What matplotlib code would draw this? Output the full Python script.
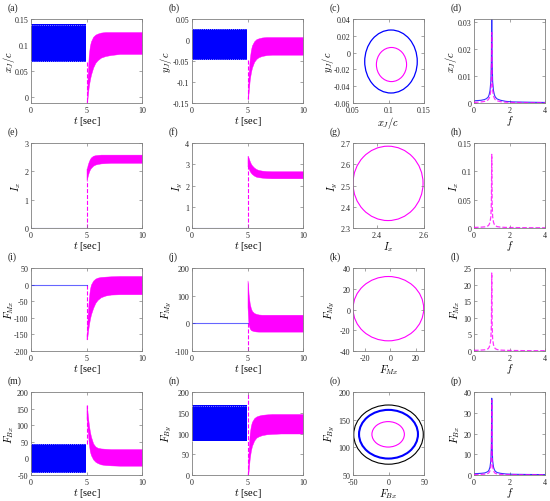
import matplotlib
matplotlib.use("Agg")
import matplotlib.pyplot as plt
from matplotlib.patches import Ellipse

plt.rcParams['font.family'] = ['Liberation Serif', 'DejaVu Serif']
plt.rcParams['mathtext.fontset'] = 'cm'
plt.rcParams['axes.unicode_minus'] = False

BLUE = '#0000FF'
MAG = '#FF00FF'

# ---------------- time series data ----------------
T_PRE = [0.0, 4.97]
T_POST = [5.0, 5.05, 5.1, 5.2, 5.3, 5.4, 5.6, 5.8, 6.0, 6.3, 6.7, 7.2, 8.0, 10.0]

# (a) x_J/c
a_pre_lo, a_pre_hi = 0.068, 0.140
a_post_hi = [-0.01, 0.0, 0.04, 0.08, 0.098, 0.107, 0.116, 0.12, 0.122, 0.124, 0.125, 0.125, 0.125, 0.125]
a_post_lo = [-0.01, -0.01, 0.0, 0.02, 0.033, 0.043, 0.057, 0.066, 0.071, 0.076, 0.079, 0.081, 0.083, 0.083]
a_jump = [0.068, -0.01]

# (b) y_J/c
b_pre_lo, b_pre_hi = -0.047, 0.027
b_post_hi = [-0.14, -0.12, -0.08, -0.045, -0.025, -0.013, -0.003, 0.002, 0.004, 0.006, 0.007, 0.007, 0.007, 0.007]
b_post_lo = [-0.14, -0.14, -0.125, -0.095, -0.078, -0.066, -0.052, -0.045, -0.041, -0.038, -0.036, -0.035, -0.035, -0.035]
b_jump = [-0.047, -0.14]

# (e) I_x
e_pre = 0.0
e_post_hi = [2.1, 2.12, 2.22, 2.34, 2.43, 2.49, 2.55, 2.57, 2.58, 2.59, 2.59, 2.59, 2.59, 2.59]
e_post_lo = [1.7, 1.72, 1.82, 1.96, 2.06, 2.12, 2.2, 2.24, 2.26, 2.28, 2.29, 2.3, 2.3, 2.3]
e_jump = [0.0, 1.7]

# (f) I_y
f_pre = 0.0
f_post_hi = [3.4, 3.38, 3.3, 3.15, 3.03, 2.95, 2.84, 2.77, 2.73, 2.7, 2.68, 2.67, 2.67, 2.67]
f_post_lo = [2.9, 2.88, 2.8, 2.68, 2.6, 2.54, 2.46, 2.41, 2.39, 2.37, 2.35, 2.34, 2.34, 2.34]
f_jump = [0.0, 3.3]

# (i) F_Mx
i_pre = 0.0
i_post_hi = [-150, -140, -96, -45, -15, 0, 12, 18, 21, 23, 24, 25, 26, 26]
i_post_lo = [-165, -165, -150, -125, -105, -90, -70, -55, -46, -38, -33, -30, -29, -29]
i_jump = [0.0, -165]

# (j) F_My
j_pre = 0.0
j_post_hi = [155, 140, 105, 72, 55, 45, 37, 34, 32, 31, 31, 31, 31, 31]
j_post_lo = [60, 20, -5, -18, -24, -26, -28.5, -29.5, -30, -30, -30, -30, -30, -30]
j_jump = [0.0, -100]

# (m) F_Bx
m_pre_lo, m_pre_hi = -43, 43
m_post_hi = [160, 155, 135, 105, 82, 66, 45, 36, 32, 30, 29, 28, 28, 28]
m_post_lo = [120, 110, 85, 48, 22, 10, -3, -10, -14, -18, -20, -21, -22, -22]
m_jump = [43, 160]

# (n) F_By
n_pre_lo, n_pre_hi = 82, 168
n_post_hi = [0, 20, 60, 100, 118, 128, 137, 141, 143, 145, 146, 147, 147, 147]
n_post_lo = [0, 0, 10, 40, 58, 70, 83, 90, 93, 96, 98, 99, 100, 100]
n_jump = [0, 200]

# ---------------- phase portraits (center x, center y, width, height) ----------------
c_blue = (0.1035, -0.0106, 0.074, 0.075)
c_mag = (0.1042, -0.0142, 0.0425, 0.0406)
g_mag = (2.448, 2.51, 0.296, 0.35)
k_mag = (-1.5, 0.8, 55.5, 62.0)
o_black = (0.0, 123.0, 98.0, 107.0)
o_blue = (0.0, 123.7, 83.0, 88.0)
o_mag = (-0.5, 123.5, 45.7, 46.0)

# ---------------- spectra ----------------
FREQ = [0, 0.2, 0.4, 0.6, 0.7, 0.8, 0.85, 0.9, 0.95, 0.98, 1.0, 1.02, 1.05, 1.1, 1.15, 1.2, 1.3, 1.5, 1.8, 2.2, 3.0, 4.0]
d_blue = [0.0008, 0.0009, 0.001, 0.0013, 0.0016, 0.0022, 0.003, 0.0045, 0.008, 0.016, 0.04, 0.016, 0.008, 0.0045, 0.003, 0.0022, 0.0015, 0.001, 0.0006, 0.0004, 0.0003, 0.0002]
d_mag = [0.0002, 0.0003, 0.0004, 0.0006, 0.0008, 0.0012, 0.0017, 0.0026, 0.0047, 0.009, 0.026, 0.009, 0.0047, 0.0026, 0.0017, 0.0012, 0.0008, 0.0005, 0.0003, 0.0002, 0.0001, 0.0001]
h_blue = [0.0] * 22
h_mag = [0.001, 0.0012, 0.0015, 0.002, 0.0025, 0.004, 0.006, 0.01, 0.02, 0.045, 0.13, 0.045, 0.02, 0.01, 0.006, 0.004, 0.0025, 0.0015, 0.001, 0.0008, 0.0005, 0.0004]
l_blue = [0.0] * 22
l_mag = [0.2, 0.22, 0.27, 0.36, 0.45, 0.7, 1.1, 1.8, 3.6, 8, 23.5, 8, 3.6, 1.8, 1.1, 0.7, 0.45, 0.27, 0.2, 0.15, 0.1, 0.08]
p_blue = [0.6, 0.7, 0.8, 1.0, 1.3, 1.8, 2.5, 3.8, 7, 14, 37, 14, 7, 3.8, 2.5, 1.8, 1.2, 0.8, 0.5, 0.35, 0.25, 0.2]
p_mag = [0.2, 0.25, 0.3, 0.4, 0.55, 0.8, 1.2, 2, 4, 9, 36, 9, 4, 2, 1.2, 0.8, 0.5, 0.3, 0.2, 0.15, 0.1, 0.1]

# ---------------- layout ----------------
W, H = 550, 502
COLS = [(31, 142), (192, 303), (353, 424), (474, 545)]
ROWS = [(20, 104), (144, 229), (269, 352), (393, 476)]
# y-label centre x position (figure px) per row/col
YLAB_X = [[9, 166, 328, 451],
          [16, 178, 333, 454],
          [9, 167, 330, 455],
          [9, 167, 330, 455]]

fig = plt.figure(figsize=(W / 100, H / 100), dpi=100)
CUR = {}


def make_ax(r, c, letter):
    x0, x1 = COLS[c]
    y0, y1 = ROWS[r]
    ax = fig.add_axes([x0 / W, 1 - y1 / H, (x1 - x0) / W, (y1 - y0) / H])
    for s in ax.spines.values():
        s.set_color('#808080')
        s.set_linewidth(0.6)
    ax.tick_params(direction='in', length=2.5, width=0.5, labelsize=5.8,
                   top=True, right=True, pad=2, colors='#808080',
                   labelcolor='#262626')
    fig.text((x0 - 23) / W, 1 - (y0 - 12) / H, '(%s)' % letter, fontsize=7,
             ha='left', va='center', color='#262626')
    CUR['ylx'] = (YLAB_X[r][c] - x0) / (x1 - x0)
    return ax


def fmt(ax):
    ax.xaxis.set_major_formatter(matplotlib.ticker.FormatStrFormatter('%g'))
    ax.yaxis.set_major_formatter(matplotlib.ticker.FormatStrFormatter('%g'))


def set_ylab(ax, ylabel):
    ax.set_ylabel(ylabel, fontsize=7.5, va='center')
    ax.yaxis.set_label_coords(CUR['ylx'], 0.5)


def time_panel(ax, pre, post_hi, post_lo, jump, ylim, yticks, ylabel):
    if isinstance(pre, tuple):
        lo, hi = pre
        ax.fill_between(T_PRE, [lo, lo], [hi, hi], color=BLUE, lw=0, zorder=2)
        ax.plot(T_PRE, [hi - (hi - lo) * 0.01] * 2, color='white', ls=(0, (1, 2)), lw=0.5, zorder=3)
        ax.plot(T_PRE, [lo + (hi - lo) * 0.01] * 2, color='white', ls=(0, (1, 2)), lw=0.5, zorder=3)
    else:
        ax.plot([0, 5.0], [pre, pre], color=BLUE, lw=0.8, alpha=0.6, zorder=2)
    ax.plot([5.0, 5.0], jump, color=MAG, ls='--', lw=0.8, zorder=1)
    ax.fill_between(T_POST, post_lo, post_hi, color=MAG, lw=0.3, edgecolor=MAG, zorder=2)
    ax.set_xlim(0, 10)
    ax.set_xticks([0, 5, 10])
    ax.set_ylim(*ylim)
    ax.set_yticks(yticks)
    fmt(ax)
    ax.set_xlabel(r'$t$ [sec]', fontsize=7.5, labelpad=0.5)
    set_ylab(ax, ylabel)


def phase_panel(ax, ells, xlim, xticks, ylim, yticks, xlabel, ylabel):
    for (cx, cy, w, h), col, lw in ells:
        ax.add_patch(Ellipse((cx, cy), w, h, fill=False, edgecolor=col, lw=lw))
    ax.set_xlim(*xlim)
    ax.set_xticks(xticks)
    ax.set_ylim(*ylim)
    ax.set_yticks(yticks)
    fmt(ax)
    ax.set_xlabel(xlabel, fontsize=7.5, labelpad=0.5)
    set_ylab(ax, ylabel)


def spec_panel(ax, blue, mag, ylim, yticks, ylabel):
    ax.plot(FREQ, blue, color=BLUE, lw=0.8, alpha=0.8, zorder=2)
    ax.plot(FREQ, mag, color=MAG, lw=0.9, ls='--', alpha=0.8, zorder=3)
    ax.set_xlim(0, 4)
    ax.set_xticks([0, 2, 4])
    ax.set_ylim(*ylim)
    ax.set_yticks(yticks)
    fmt(ax)
    ax.set_xlabel(r'$f$', fontsize=7.5, labelpad=-0.5)
    set_ylab(ax, ylabel)


# Row 1
ax = make_ax(0, 0, 'a')
time_panel(ax, (a_pre_lo, a_pre_hi), a_post_hi, a_post_lo, a_jump, (-0.011, 0.15),
           [0, 0.05, 0.1, 0.15], r'$x_J/c$')
ax = make_ax(0, 1, 'b')
time_panel(ax, (b_pre_lo, b_pre_hi), b_post_hi, b_post_lo, b_jump, (-0.15, 0.05),
           [-0.15, -0.1, -0.05, 0, 0.05], r'$y_J/c$')
ax = make_ax(0, 2, 'c')
phase_panel(ax, [(c_blue, BLUE, 0.9), (c_mag, MAG, 0.8)], (0.05, 0.15), [0.05, 0.1, 0.15],
            (-0.06, 0.04), [-0.06, -0.04, -0.02, 0, 0.02, 0.04], r'$x_J/c$', r'$y_J/c$')
ax = make_ax(0, 3, 'd')
spec_panel(ax, d_blue, d_mag, (0, 0.031), [0, 0.01, 0.02, 0.03], r'$x_J/c$')

# Row 2
ax = make_ax(1, 0, 'e')
time_panel(ax, e_pre, e_post_hi, e_post_lo, e_jump, (0, 3), [0, 1, 2, 3], r'$I_x$')
ax = make_ax(1, 1, 'f')
time_panel(ax, f_pre, f_post_hi, f_post_lo, f_jump, (0, 4), [0, 1, 2, 3, 4], r'$I_y$')
ax = make_ax(1, 2, 'g')
phase_panel(ax, [(g_mag, MAG, 0.8)], (2.3, 2.6), [2.4, 2.6],
            (2.3, 2.7), [2.3, 2.4, 2.5, 2.6, 2.7], r'$I_x$', r'$I_y$')
ax = make_ax(1, 3, 'h')
spec_panel(ax, h_blue, h_mag, (0, 0.15), [0, 0.05, 0.1, 0.15], r'$I_x$')

# Row 3
ax = make_ax(2, 0, 'i')
time_panel(ax, i_pre, i_post_hi, i_post_lo, i_jump, (-200, 50),
           [-200, -150, -100, -50, 0, 50], r'$F_{Mx}$')
ax = make_ax(2, 1, 'j')
time_panel(ax, j_pre, j_post_hi, j_post_lo, j_jump, (-100, 200),
           [-100, 0, 100, 200], r'$F_{My}$')
ax = make_ax(2, 2, 'k')
phase_panel(ax, [(k_mag, MAG, 0.8)], (-29.3, 26.5), [-20, 0, 20],
            (-40, 40), [-40, -20, 0, 20, 40], r'$F_{Mx}$', r'$F_{My}$')
ax = make_ax(2, 3, 'l')
spec_panel(ax, l_blue, l_mag, (0, 25), [0, 5, 10, 15, 20, 25], r'$F_{Mx}$')

# Row 4
ax = make_ax(3, 0, 'm')
time_panel(ax, (m_pre_lo, m_pre_hi), m_post_hi, m_post_lo, m_jump, (-50, 200),
           [-50, 0, 50, 100, 150, 200], r'$F_{Bx}$')
ax = make_ax(3, 1, 'n')
time_panel(ax, (n_pre_lo, n_pre_hi), n_post_hi, n_post_lo, n_jump, (0, 200),
           [0, 50, 100, 150, 200], r'$F_{By}$')
ax = make_ax(3, 2, 'o')
phase_panel(ax, [(o_black, 'black', 0.8), (o_blue, BLUE, 1.5), (o_mag, MAG, 0.8)],
            (-50, 50), [-50, 0, 50], (50, 200), [50, 100, 150, 200], r'$F_{Bx}$', r'$F_{By}$')
ax = make_ax(3, 3, 'p')
spec_panel(ax, p_blue, p_mag, (0, 40), [0, 10, 20, 30, 40], r'$F_{Bx}$')

fig.savefig('out.png', dpi=100)
